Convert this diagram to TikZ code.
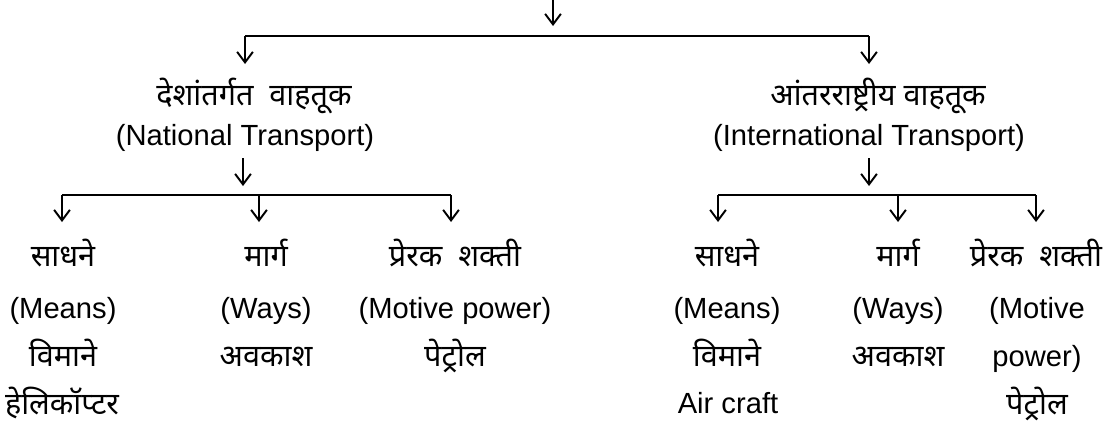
\documentclass[tikz,border=0pt]{standalone}
\usepackage{fontspec}
\setmainfont{Liberation Sans}
\newfontfamily\devfont[Script=Devanagari,Scale=1.05]{Noto Sans}
\usetikzlibrary{arrows.meta}

\tikzset{
  arr/.style={-{Straight Barb[length=6pt,width=9pt]}, line width=1.1pt},
  bar/.style={line width=1.1pt},
  dev/.style={font=\devfont\fontsize{16.6}{20}\selectfont, inner sep=0pt, anchor=base},
  lat/.style={font=\fontsize{16.6}{20}\selectfont, inner sep=0pt, anchor=base},
}

\begin{document}
\begin{tikzpicture}[x=0.02cm,y=-0.02cm]
    \useasboundingbox (0,0) rectangle (1106,423);

    % top split
    \coordinate (top) at (553,0);
    \coordinate (topend) at (553,26);
    \coordinate (barL) at (245,36);
    \coordinate (barR) at (869,36);
    \coordinate (natA) at (245,64);
    \coordinate (intA) at (869,64);
    \draw[arr] (top) -- (topend);
    \draw[bar] (barL) -- (barR);
    \draw[arr] (barL) -- (natA);
    \draw[arr] (barR) -- (intA);

    \node[dev] (nat) at (254,105) {देशांतर्गत\ \ वाहतूक};
    \node[lat] (natE) at (245,145) {(National Transport)};
    \node[dev] (int) at (878,105) {आंतरराष्ट्रीय वाहतूक};
    \node[lat] (intE) at (869,145) {(International Transport)};

    % national branch
    \coordinate (natS) at (243,158);
    \coordinate (natT) at (243,186);
    \draw[arr] (natS) -- (natT);
    \foreach \x/\n in {62/nm, 259/nw, 451/np}{
        \coordinate (\n b) at (\x,195);
        \coordinate (\n a) at (\x,222);
        \draw[arr] (\n b) -- (\n a);
    }
    \draw[bar] (nmb) -- (npb);

    % international branch
    \coordinate (intS) at (869,158);
    \coordinate (intT) at (869,186);
    \draw[arr] (intS) -- (intT);
    \foreach \x/\n in {718/im, 898/iw, 1036/ip}{
        \coordinate (\n b) at (\x,195);
        \coordinate (\n a) at (\x,222);
        \draw[arr] (\n b) -- (\n a);
    }
    \draw[bar] (imb) -- (ipb);

    % national columns
    \node[dev] (nm1) at (63,266) {साधने};
    \node[lat] (nm2) at (63,318) {(Means)};
    \node[dev] (nm3) at (63,366) {विमाने};
    \node[dev] (nm4) at (62,414) {हेलिकॉप्टर};
    \node[dev] (nw1) at (266,266) {मार्ग};
    \node[lat] (nw2) at (266,318) {(Ways)};
    \node[dev] (nw3) at (266,366) {अवकाश};
    \node[dev] (np1) at (455,266) {प्रेरक\ \ शक्ती};
    \node[lat] (np2) at (455,318) {(Motive power)};
    \node[dev] (np3) at (455,366) {पेट्रोल};

    % international columns
    \node[dev] (im1) at (727,266) {साधने};
    \node[lat] (im2) at (727,318) {(Means)};
    \node[dev] (im3) at (727,366) {विमाने};
    \node[lat] (im4) at (728,413) {Air craft};
    \node[dev] (iw1) at (898,266) {मार्ग};
    \node[lat] (iw2) at (898,318) {(Ways)};
    \node[dev] (iw3) at (898,366) {अवकाश};
    \node[dev] (ip1) at (1036,266) {प्रेरक\ \ शक्ती};
    \node[lat] (ip2) at (1037,318) {(Motive};
    \node[lat] (ip3) at (1037,366) {power)};
    \node[dev] (ip4) at (1037,414) {पेट्रोल};
\end{tikzpicture}
\end{document}
